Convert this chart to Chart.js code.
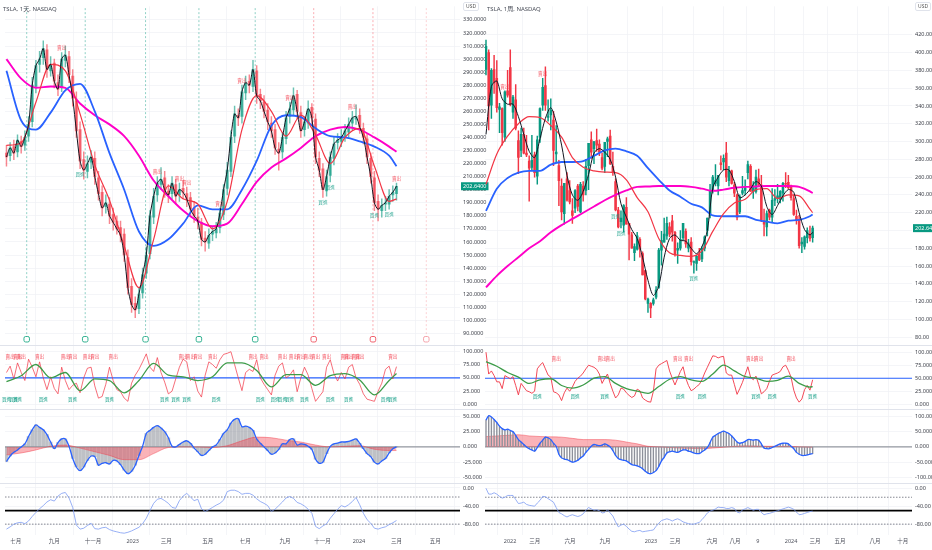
<!DOCTYPE html>
<html>
<head>
<meta charset="utf-8">
<title>TSLA 1天 / 1周</title>
<script src="https://cdn.jsdelivr.net/npm/chart.js@4.4.1/dist/chart.umd.min.js"></script>
<style>
  html, body { margin: 0; padding: 0; background: #fff; }
  #wrap { position: relative; width: 932px; height: 550px; overflow: hidden; font-family: "Noto Sans", "Noto Sans CJK TC", sans-serif; }
  #wrap canvas { position: absolute; top: 0; }
  #cvL { left: 0; }
  #cvR { left: 483px; }
  .hdr { position: absolute; top: 4px; font-size: 6px; color: #4a4e59; white-space: nowrap; }
  .unit { position: absolute; top: 2px; font-size: 5px; line-height: 7px; padding: 0 2px; color: #555; border: 1px solid #e0e3eb; border-radius: 2px; background: #fff; }
</style>
</head>
<body>
<div id="wrap">
  <canvas id="cvL" width="490" height="550"></canvas>
  <canvas id="cvR" width="449" height="550"></canvas>
  <div class="hdr" style="left:3px">TSLA, 1天, NASDAQ</div>
  <div class="hdr" style="left:487px">TSLA, 1周, NASDAQ</div>
  <div class="unit" style="left:463px">USD</div>
  <div class="unit" style="left:915px">USD</div>
</div>
<script>
// ---------- left pane: TSLA daily (one bar here = 4 sessions) ----------
var leftTickIdx = [2.55, 13, 23.5, 34.3, 43.4, 54.7, 64.9, 75.7, 85.9, 95.8, 106, 116.5];
var leftTickLabels = ['七月', '九月', '十一月', '2023', '三月', '五月', '七月', '九月', '十一月', '2024', '三月', '五月'];
var leftPriceTicks = [90, 100, 110, 120, 130, 140, 150, 160, 170, 180, 190, 200, 210, 220, 230, 240, 250, 260, 270, 280, 290, 300, 310, 320, 330];

var leftOpen = [228,226,233,229,237,234,241,252,279,296,301,307,291,297,282,278,299,302,287,268,246,223,214,221,224,209,198,187,189,181,176,171,166,148,126,113,109,121,136,151,179,196,204,209,199,197,204,196,201,197,194,186,179,175,163,159,166,167,171,181,201,214,241,257,256,274,283,279,291,273,267,261,251,246,231,229,239,256,261,273,259,246,251,263,254,224,216,199,211,224,236,237,241,244,251,254,257,247,239,224,209,191,184,189,189,196,197];
var leftHigh = [234,236,238,242,241,245,256,286,299,306,314,311,302,300,288,305,310,306,292,275,252,229,226,230,229,214,203,196,194,186,180,176,170,154,132,118,125,140,156,184,201,210,217,214,204,210,208,205,207,202,198,191,186,178,168,170,172,175,186,204,221,245,264,262,280,287,288,299,295,277,272,266,256,250,236,244,260,267,278,276,264,256,268,266,258,229,220,215,229,240,243,246,250,255,260,265,262,251,243,228,214,196,193,195,200,203,205];
var leftLow = [218,222,223,225,228,230,237,248,274,290,296,286,287,278,272,275,294,282,264,240,216,208,209,216,204,192,180,182,174,169,166,160,145,120,106,102,105,117,132,147,174,191,200,194,190,193,189,191,193,187,180,175,170,157,153,155,161,163,167,177,196,210,236,249,251,269,274,275,266,262,255,246,240,227,215,224,235,251,257,254,240,241,247,250,220,210,194,195,206,219,231,233,237,240,246,250,243,235,220,205,184,176,179,184,185,191,192];
var leftClose = [225,232,228,238,233,240,250,280,295,300,308,292,296,283,277,300,303,288,270,245,222,215,220,225,210,197,186,190,180,175,170,165,150,125,112,108,120,135,150,180,195,205,208,200,196,205,195,200,198,193,185,180,176,162,160,165,168,170,182,200,215,240,258,255,275,282,280,292,272,268,260,252,245,232,228,240,255,262,272,260,245,252,262,255,225,215,200,210,225,235,238,240,245,250,255,256,248,240,225,210,190,185,188,190,195,198,202.64];

// moving averages read every 4th bar
var leftMaRed = [234,236,267,296,291,258,219,192,157,125,162,203,193,189,170,191,246,272,260,241,257,242,220,240,247,218,191,193];
var leftMaBlue = [291,253,246,259,276,281,260,228,200,168,157,162,174,188,185,185,200,222,249,257,255.5,247,241,240,237,233,226,218];
var leftMaPink = [300,285,278,279,278,266,257,250,241,226,207,195,184,176,172,174,189,206,217,224,232,241,246,248,246,240,233,229];

var leftK = [60,72,48,78,60,45,85,70,52,80,50,28,52,30,20,70,45,28,36,40,22,50,68,70,35,12,15,38,70,45,28,24,12,6,40,55,66,80,95,70,62,88,60,42,20,25,48,70,85,80,45,52,25,14,55,80,75,68,84,94,96,99,75,50,26,60,66,62,84,50,38,28,18,55,72,78,50,55,65,24,50,70,55,30,6,15,24,70,84,58,44,60,48,70,75,50,38,20,10,8,6,25,40,66,72,48,71];
var leftD = [43,54,75,50,60,26,48,45,22,45,77,55,52,45,52,78,78,64,33,56,56,36,54,58,46,18,45,58];
var leftMacd = [-24,-15,-9,-5,0,5,17,28,36,32,28,20,8,-3,7,13,13,1,-19,-33,-39,-33,-22,-15,-16,-30,-27,-26,-28,-22,-23,-29,-38,-44,-40,-30,-14,1,22,27,32,35,31,25,15,1,0,4,8,10,6,-2,-8,-14,-12,-6,0,3,12,22,28,39,45,46,33,34,32,27,13,6,0,-6,-12,-10,-4,5,5,12,13,3,5,4,1,-4,-20,-27,-25,-11,1,5,6,8,8,9,11,13,6,-3,-11,-16,-25,-28,-23,-19,-10,-3,0];
var leftSignal = [-13,-10,-5,1,3,-2,-8,-14,-21,-21,-11,-1,0,0,-1,2,10,16,15,11,8,3,0,1,2,-4,-6,-6];
var leftWr = [-91,-86,-80,-77,-76,-79,-73,-63,-54,-46,-39,-31,-26,-29,-18,-12,-10,-22,-43,-82,-91,-89,-83,-78,-90,-91,-88,-87,-92,-95,-97,-99,-100,-98,-95,-91,-87,-79,-67,-50,-34,-25,-23,-28,-34,-43,-45,-28,-18,-12,-20,-28,-25,-46,-52,-48,-43,-38,-34,-27,-8,-5,-5,-8,-14,-12,-12,-16,-24,-30,-34,-39,-52,-47,-39,-31,-22,-19,-23,-32,-35,-40,-47,-56,-85,-90,-84,-79,-67,-57,-47,-39,-42,-37,-30,-21,-37,-56,-70,-78,-89,-91,-88,-86,-81,-77,-72];

var leftPriceSell = [15, 41, 47, 49, 58, 64, 77, 94, 106];
var leftPriceBuy = [20, 86, 88, 100, 104];
var leftStochSell = [1,3,4,9,16,18,22,24,29,48,50,52,56,67,70,75,78,80,82,84,87,92,93,95,96,105];
var leftStochBuy = [0,2,3,10,18,28,43,46,49,57,69,73,75,77,81,88,93,103,105];
var leftCycleGreen = [5.5, 21.4, 37.8, 52.3, 67.6];
var leftCycleRed = [83.5, 99.6];
var leftCyclePink = [114.1];

// ---------- right pane: TSLA weekly ----------
var rightTickIdx = [8.9, 18.1, 31.1, 44.1, 61.1, 70, 83.7, 92.2, 100.7, 113, 121.9, 131.1, 144.1, 154.4];
var rightTickLabels = ['2022', '三月', '六月', '九月', '2023', '三月', '六月', '八月', '9', '2024', '三月', '五月', '八月', '十月'];
var rightPriceTicks = [80, 100, 120, 140, 160, 180, 200, 220, 240, 260, 280, 300, 320, 340, 360, 380, 400, 420];

var rightOpen = [381,400,341,381,371,336,337,305,357,383,333,347,301,290,308,287,278,271,285,261,305,341,363,327,330,324,286,273,250,219,258,245,222,225,250,221,250,245,273,302,292,301,297,282,272,300,306,272,255,223,210,206,226,208,195,175,179,190,174,155,118,118,118,125,136,178,187,194,204,211,198,178,180,192,199,180,187,164,163,173,168,180,200,217,245,253,250,276,277,287,256,267,251,240,221,242,245,265,272,244,244,258,251,211,204,223,215,234,236,235,242,253,254,250,236,216,212,185,182,192,196,192];
var rightHigh = [414,403,382,397,391,343,338,357,380,403,352,364,312,315,315,307,284,307,288,306,338,371,384,347,348,334,318,279,258,253,265,256,236,246,252,254,255,280,298,311,300,314,302,287,299,305,313,288,258,226,222,229,237,208,198,185,198,192,176,155,124,119,124,137,180,199,214,215,209,217,199,186,200,208,202,190,192,166,172,180,182,194,214,252,262,274,262,284,285,299,272,268,254,241,240,261,257,278,274,255,268,269,262,224,222,224,247,246,252,245,254,265,262,251,240,223,217,192,194,203,205,205];
var rightLow = [375,313,326,354,333,310,296,300,350,340,326,313,264,283,286,283,233,268,260,252,299,335,335,323,313,273,277,228,212,207,233,230,208,220,222,220,233,240,246,281,275,289,284,268,265,283,274,262,222,203,203,198,207,167,180,166,178,170,150,122,108,102,116,123,135,161,187,190,193,188,171,163,178,189,181,176,161,152,155,166,165,177,194,214,242,250,240,268,268,255,250,252,238,212,219,240,240,258,244,236,242,250,210,194,194,212,210,228,231,231,233,248,247,234,217,207,180,175,179,186,188,187];
var rightClose = [407,340,380,366,338,339,310,356,352,342,350,315,282,308,287,285,270,279,265,302,337,361,341,329,335,290,288,256,221,253,234,232,217,245,227,252,240,272,298,288,300,296,288,270,299,303,275,265,223,204,214,228,207,196,180,182,194,179,150,123,123,113,122,133,178,189,196,208,196,198,173,180,190,208,185,185,165,164,171,167,180,193,214,244,260,256,262,274,281,260,267,253,242,215,238,245,248,274,244,250,260,251,212,207,219,215,234,236,239,244,253,252,248,237,218,212,183,187,193,200,191,202.64];

// short MA read every 2nd week, the others every 4th week
var rightBlack = [308,362,368,348,342,342,328,308,289,282,303,326,338,322,296,262,240,234,244,263,287,292,288,280,260,230,215,201,191,170,144,127,138,170,191,195,189,188,180,174,182,200,248,260,268,268,255,237,240,247,255,250,227,218,228,239,246,243,220,201,195,198];
var rightMaRed = [252,286,306,320,328,327,318,305,282,271,267,265.6,265,257,237,221,191,175,172,171,177,199,219,231,235,246,247,236,240,239,224,220];
var rightMaBlue = [222,247,259,265,267,267,274,277,277,278,284,290,292,289,284,270,257,245,238,230,226,217,216,216,216,212,210,208,211,212,216,218];
var rightMaPink = [136,149,160,170,180,188,198,206,213,220,227,234,240,245,249,249.5,250,250,250,249,247,244.6,246,248,249,249.5,250,250,250,249,244,242];

var rightK = [100,58,64,55,43,43,30,55,52,49,53,36,18,40,33,26,24,21,25,68,75,80,68,56,52,24,22,18,7,22,31,25,33,44,50,54,60,68,75,73,71,67,58,40,50,58,40,25,12,18,31,29,22,17,13,16,29,26,12,8,5,4,25,68,75,78,81,84,64,50,37,50,63,72,50,36,26,29,34,38,47,60,71,82,93,92,89,91,92,60,56,56,38,19,30,42,57,72,52,47,54,38,20,24,30,44,56,58,60,63,72,75,65,52,27,12,4,10,28,36,27,47];
var rightD = [82,73,61,52,40,47,49,36,31,37,50,53,40,30,25,21,34,48,53,47,44,58,75,64,53,50,44,46,54,40,33,34];
var rightMacd = [88,102,98,90,80,68,60,56,58,54,50,38,24,16,8,0,-6,-10,-14,-2,12,22,32,30,24,12,2,-24,-36,-40,-42,-46,-50,-48,-44,-36,-30,-18,-8,2,8,6,4,6,10,6,0,-12,-28,-38,-42,-44,-46,-52,-58,-60,-62,-66,-72,-80,-86,-88,-84,-78,-64,-46,-34,-20,-16,-14,-16,-18,-14,-10,-10,-14,-16,-20,-22,-22,-16,-10,-2,14,32,38,44,48,52,48,44,36,26,16,12,14,18,24,24,22,24,22,10,-4,-6,-6,-2,2,6,10,12,12,10,2,-6,-18,-24,-28,-28,-26,-24,-22];
var rightSignal = [34,36,38,40,36,34,33,32,28,24,24,24,22,16,10,2,0,-2,-4,-5,-6,-4,-1,2,4,3,2,2,2,0,-1,-1];
var rightWr = [0,-13,-13,-10,-13,-18,-22,-20,-16,-16,-16,-25,-34,-33,-31,-36,-38,-39,-40,-33,-27,-18,-19,-23,-27,-31,-43,-54,-57,-61,-64,-61,-59,-61,-63,-61,-57,-49,-43,-46,-49,-48,-50,-55,-54,-48,-55,-62,-75,-86,-82,-80,-85,-91,-96,-97,-95,-94,-97,-96,-95,-94,-93,-85,-78,-72,-70,-68,-70,-73,-70,-68,-71,-75,-77,-79,-80,-80,-78,-76,-70,-63,-55,-51,-49,-46,-42,-43,-43,-45,-45,-43,-45,-53,-55,-48,-46,-43,-46,-49,-47,-47,-54,-59,-57,-56,-54,-52,-50,-48,-46,-44,-42,-44,-47,-53,-59,-58,-56,-54,-52,-51];

var rightPriceSell = [7, 21];
var rightPriceBuy = [48, 50, 77];
var rightStochSell = [26, 43, 46, 71, 75, 98, 101, 113];
var rightStochBuy = [19, 33, 44, 72, 80, 100, 106, 121];

var stochTicks = [0, 25, 50, 75, 100];
var leftMacdTicks = [-50, -25, 0, 25, 50];
var rightMacdTicks = [-100, -50, 0, 50, 100];
var wrTicks = [-80, -40, 0];

var UP = '8,153,129', DN = '242,54,69';
Chart.defaults.font.family = '"Noto Sans", "Noto Sans CJK TC", sans-serif';

// bar positions of the sparse reads: every `step` bars, plus the last bar
function steps(step, last) {
  var a = [];
  for (var i = 0; i < last; i += step) a.push(i);
  a.push(last);
  return a;
}

function pts(xs, ys) {
  return xs.map(function (x, i) { return {x: x, y: ys[i]}; });
}

function series(axis, xs, ys, color, width, extra) {
  var ds = {type: 'line', yAxisID: axis, data: pts(xs, ys), borderColor: color, borderWidth: width,
    pointRadius: 0, fill: false, tension: 0, order: 5};
  return Object.assign(ds, extra || {});
}

function hline(axis, xr, v, color, width, dash) {
  return {type: 'line', yAxisID: axis, data: [{x: xr[0], y: v}, {x: xr[1], y: v}], borderColor: color,
    borderWidth: width, borderDash: dash || [], pointRadius: 0, fill: false, order: 15};
}

function candles(idx, o, h, l, c, bodyW, alpha) {
  var col = c.map(function (v, i) { return 'rgba(' + (v >= o[i] ? UP : DN) + ',' + alpha + ')'; });
  return [
    {type: 'bar', yAxisID: 'yP', data: idx.map(function (x, i) { return {x: x, y: [l[i], h[i]]}; }),
      backgroundColor: col, barThickness: 0.8, grouped: false, order: 21},
    {type: 'bar', yAxisID: 'yP', data: idx.map(function (x, i) { return {x: x, y: [o[i], c[i]]}; }),
      backgroundColor: col, barThickness: bodyW, minBarLength: 1, grouped: false, order: 20}
  ];
}

function cycleLines(xs, color) {
  var d = [];
  xs.forEach(function (x) { d.push({x: x, y: 339}, {x: x, y: 89}, {x: x, y: null}); });
  return {type: 'line', yAxisID: 'yP', data: d, borderColor: color, borderWidth: 0.9, borderDash: [2, 2],
    pointRadius: 0, fill: false, spanGaps: false, order: 16};
}

function cycleMarks(xs, color) {
  return {type: 'line', yAxisID: 'yP', data: xs.map(function (x) { return {x: x, y: 85.5}; }), showLine: false,
    pointStyle: 'rectRounded', pointRadius: 3.2, pointBorderWidth: 1, pointBorderColor: color,
    pointBackgroundColor: '#fff', order: 1};
}

function yAxis(w, stackW, range, ticks, dec, axisW) {
  return {
    type: 'linear', position: 'right', stack: 'pane', stackWeight: stackW, weight: w,
    min: range[0], max: range[1], bounds: 'data', offset: false,
    border: {display: false},
    grid: {color: '#f1f2f6', drawTicks: false, lineWidth: 0.8},
    ticks: {padding: 3, autoSkip: false, color: '#3b3e47', font: {size: 5.5},
      callback: function (v) { return v.toFixed(dec); }},
    afterBuildTicks: function (s) { s.ticks = ticks.map(function (v) { return {value: v}; }); },
    afterFit: function (s) { s.width = axisW; }
  };
}

// separators, buy / sell marks and the last price tag
function decor(p) {
  return {
    id: 'decor',
    afterDatasetsDraw: function (chart) {
      var ctx = chart.ctx, xs = chart.scales.x, a = chart.chartArea;
      ctx.save();
      ctx.strokeStyle = '#e0e3eb';
      ctx.lineWidth = 1;
      ['yP', 'yS', 'yM'].forEach(function (id) {
        var b = Math.round(chart.scales[id].bottom) + 0.5;
        ctx.beginPath(); ctx.moveTo(0, b); ctx.lineTo(chart.width, b); ctx.stroke();
      });
      ctx.font = '4.6px "Noto Sans CJK TC"';
      ctx.textAlign = 'center';
      ctx.textBaseline = 'middle';
      p.marks.forEach(function (m) {
        var sc = chart.scales[m.axis];
        ctx.fillStyle = m.color;
        m.at.forEach(function (i) {
          var v = m.values ? m.values[i] : m.value;
          ctx.fillText(m.text, xs.getPixelForValue(i), sc.getPixelForValue(v) + m.dy);
        });
      });
      var y = chart.scales.yP.getPixelForValue(p.last), x0 = a.right + 1;
      var label = p.last.toFixed(p.priceDec);
      ctx.font = '5.5px "Noto Sans"';
      ctx.fillStyle = '#089981';
      ctx.fillRect(x0, y - 4, Math.min(chart.width - x0, ctx.measureText(label).width + 4), 8);
      ctx.fillStyle = '#fff';
      ctx.textAlign = 'left';
      ctx.fillText(label, x0 + 2, y + 0.3);
      ctx.restore();
    }
  };
}

function buildPane(id, p) {
  var idx = p.close.map(function (v, i) { return i; });
  var xr = [p.xMin, p.xMax];
  var mono = {cubicInterpolationMode: 'monotone', order: 4};
  var ds = candles(idx, p.open, p.high, p.low, p.close, p.bodyW, p.alpha);

  ds.push(hline('yP', xr, p.last, 'rgba(8,153,129,0.3)', 1));
  ds.push(series('yP', p.blackX, p.black, '#131722', 1, {tension: 0.3, order: 2}));
  ds.push(series('yP', p.maX, p.maRed, '#f23645', 1.2, mono));
  ds.push(series('yP', p.maX, p.maBlue, '#2962ff', 1.8, mono));
  ds.push(series('yP', p.maX, p.maPink, '#ff00c8', 1.9, mono));
  (p.extra || []).forEach(function (d) { ds.push(d); });

  ds.push(hline('yS', xr, 50, '#2962ff', 1.1));
  ds.push(series('yS', idx, p.k, p.kColor, 0.9, {order: 6}));
  ds.push(series('yS', p.maX, p.d, '#3d9c49', 1.3, mono));

  ds.push(hline('yM', xr, 0, '#9598a1', 1.2));
  ds.push({type: 'bar', yAxisID: 'yM', data: pts(idx, p.macd), backgroundColor: p.histColor,
    barThickness: p.histW, grouped: false, order: 12});
  ds.push(series('yM', p.maX, p.signal, 'rgba(242,54,69,0.55)', 0.8,
    {fill: 'origin', backgroundColor: 'rgba(242,54,69,0.38)', cubicInterpolationMode: 'monotone', order: p.signalOrder}));
  ds.push(series('yM', idx, p.macd, '#2962ff', 1.3, {tension: 0.3, order: 3}));

  ds.push(hline('yW', xr, -20, '#787b86', 0.9, [1.5, 1.5]));
  ds.push(hline('yW', xr, -80, '#787b86', 0.9, [1.5, 1.5]));
  ds.push(hline('yW', xr, -50, '#000', 1.8));
  ds.push(series('yW', idx, p.wr, '#7d9cf3', 0.8, {order: 6}));

  var marks = [
    {axis: 'yP', at: p.priceSell, values: p.high, dy: -5, text: '賣出', color: 'rgba(242,54,69,0.8)'},
    {axis: 'yP', at: p.priceBuy, values: p.low, dy: 5, text: '買進', color: 'rgba(8,153,129,0.8)'},
    {axis: 'yS', at: p.stochSell, value: p.sellLevel, dy: 0, text: '賣出', color: 'rgba(242,54,69,0.85)'},
    {axis: 'yS', at: p.stochBuy, value: p.buyLevel, dy: 0, text: '買進', color: 'rgba(8,153,129,0.9)'}
  ];

  return new Chart(document.getElementById(id), {
    type: 'line',
    data: {datasets: ds},
    options: {
      responsive: false,
      animation: false,
      events: [],
      layout: {padding: {left: p.padLeft, right: 0, top: 0, bottom: 0}},
      plugins: {legend: {display: false}, tooltip: {enabled: false}},
      elements: {point: {radius: 0}},
      scales: {
        x: {
          type: 'linear', min: p.xMin, max: p.xMax, bounds: 'data', offset: false,
          border: {display: false},
          grid: {color: '#f1f2f6', drawTicks: false, lineWidth: 0.8},
          ticks: {padding: 3, autoSkip: false, maxRotation: 0, color: '#50535e', font: {size: 5.5},
            callback: function (v, i) { return p.tickLabels[i]; }},
          afterBuildTicks: function (s) { s.ticks = p.tickIdx.map(function (v) { return {value: v}; }); },
          afterFit: function (s) { s.height = 15; }
        },
        yP: yAxis(1, 343, p.pRange, p.priceTicks, p.priceDec, p.axisW),
        yS: yAxis(2, 65, p.sRange, stochTicks, 3, p.axisW),
        yM: yAxis(3, 74, p.mRange, p.macdTicks, 3, p.axisW),
        yW: yAxis(4, 53, p.wRange, wrTicks, 2, p.axisW)
      }
    },
    plugins: [decor({marks: marks, last: p.close[p.close.length - 1], priceDec: p.priceDec})]
  });
}

buildPane('cvL', {
  open: leftOpen, high: leftHigh, low: leftLow, close: leftClose, bodyW: 2.4, alpha: 0.6,
  blackX: leftClose.map(function (v, i) { return i; }), black: leftClose,
  maX: steps(4, leftClose.length - 1), maRed: leftMaRed, maBlue: leftMaBlue, maPink: leftMaPink,
  k: leftK, d: leftD, kColor: 'rgba(242,54,69,0.8)', macd: leftMacd, signal: leftSignal, wr: leftWr,
  histColor: 'rgba(128,131,142,0.5)', histW: 2.9, signalOrder: 9,
  priceSell: leftPriceSell, priceBuy: leftPriceBuy, stochSell: leftStochSell, stochBuy: leftStochBuy,
  sellLevel: 91, buyLevel: 9,
  extra: [cycleLines(leftCycleGreen, 'rgba(8,153,129,0.5)'), cycleLines(leftCycleRed, 'rgba(242,54,69,0.45)'),
    cycleLines(leftCyclePink, 'rgba(242,54,69,0.25)'), cycleMarks(leftCycleGreen, '#2fb08f'),
    cycleMarks(leftCycleRed, '#f0616d'), cycleMarks(leftCyclePink, '#f5a3ab')],
  xMin: -0.4, xMax: 123.26, padLeft: 0, axisW: 30,
  tickIdx: leftTickIdx, tickLabels: leftTickLabels, priceTicks: leftPriceTicks, priceDec: 4,
  pRange: [80.9, 340.4], sRange: [-9.3, 111.1], mRange: [-58.6, 61.3], wRange: [-104, 11.8], macdTicks: leftMacdTicks
});

buildPane('cvR', {
  open: rightOpen, high: rightHigh, low: rightLow, close: rightClose, bodyW: 1.9, alpha: 1,
  blackX: steps(2, rightClose.length - 1), black: rightBlack,
  maX: steps(4, rightClose.length - 1), maRed: rightMaRed, maBlue: rightMaBlue, maPink: rightMaPink,
  k: rightK, d: rightD, kColor: '#f23645', macd: rightMacd, signal: rightSignal, wr: rightWr,
  histColor: '#8d909a', histW: 0.7, signalOrder: 13,
  priceSell: rightPriceSell, priceBuy: rightPriceBuy, stochSell: rightStochSell, stochBuy: rightStochBuy,
  sellLevel: 88, buyLevel: 15,
  xMin: -0.37, xMax: 157.8, padLeft: 2, axisW: 20,
  tickIdx: rightTickIdx, tickLabels: rightTickLabels, priceTicks: rightPriceTicks, priceDec: 2,
  pRange: [71, 452], sRange: [-10.1, 113.3], mRange: [-117.2, 122.7], wRange: [-104.2, 12.6], macdTicks: rightMacdTicks
});
</script>
</body>
</html>
